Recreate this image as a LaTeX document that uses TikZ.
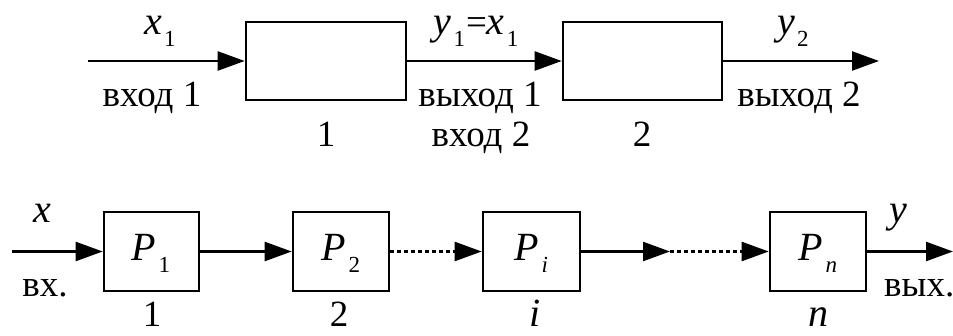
\documentclass[tikz,border=0pt]{standalone}
\usepackage{fontspec}
\setmainfont{Liberation Serif}
\usetikzlibrary{arrows.meta}
\newcommand{\lowsub}[1]{\kern0.06em\raisebox{-0.3em}{\fontsize{23}{23}\selectfont #1}}
\newcommand{\mathlbl}[2]{{\fontsize{40}{44}\selectfont\itshape #1}\lowsub{#2}}
\tikzset{
  blockbox/.style={draw, line width=2.6pt, inner sep=0pt},
  lbl/.style={inner sep=0pt, anchor=base, font=\fontsize{37}{42}\selectfont},
  mlbl/.style={inner sep=0pt, anchor=base, font=\fontsize{40}{44}\selectfont\itshape},
  conn/.style={line width=2.4pt, -{Triangle[length=27pt,width=19pt]}},
  dotconn/.style={line width=2.4pt, dash pattern=on 4pt off 3pt, -{Triangle[length=27pt,width=19pt]}},
}
\begin{document}
\begin{tikzpicture}[x=1pt,y=-1pt]
\useasboundingbox (0,0) rectangle (953,336);
% top row
\node[blockbox, minimum width=160pt, minimum height=78pt] (b1) at (326,61) {};
\node[blockbox, minimum width=159pt, minimum height=78pt] (b2) at (642.5,61) {};
\coordinate (in1) at (88,61);
\coordinate (out2) at (879,61);
\draw[conn] (in1) -- (b1.west);
\draw[conn] (b1.east) -- (b2.west);
\draw[conn] (b2.east) -- (out2);
\node[lbl] (lx1) at (160,35) {\mathlbl{x}{1}};
\node[lbl] (lin1) at (152,107) {вход 1};
\node[lbl] (n1) at (326,147) {1};
\node[lbl] (ly1) at (476,35) {\mathlbl{y}{1}\kern0.03em=\mathlbl{x}{1}};
\node[lbl] (lout1) at (480,107) {выход 1};
\node[lbl] (lin2) at (481,147) {вход 2};
\node[lbl] (n2) at (642,147) {2};
\node[lbl] (ly2) at (793,35) {\mathlbl{y}{2}};
\node[lbl] (lout2) at (799,107) {выход 2};
% bottom row
\node[blockbox, minimum width=95pt, minimum height=79pt] (p1) at (151.5,251.5) {};
\node[blockbox, minimum width=96pt, minimum height=79pt] (p2) at (341,251.5) {};
\node[blockbox, minimum width=97pt, minimum height=79pt] (pi) at (531.5,251.5) {};
\node[blockbox, minimum width=96pt, minimum height=79pt] (pn) at (818,251.5) {};
\node[lbl] (tp1) at (151,261) {\mathlbl{P}{1}};
\node[lbl] (tp2) at (341,261) {\mathlbl{P}{2}};
\node[lbl] (tpi) at (531.5,261) {\mathlbl{P}{\itshape i}};
\node[lbl] (tpn) at (818,261) {\mathlbl{P}{\itshape n}};
\coordinate (inB) at (12,251.5);
\coordinate (midB) at (670,251.5);
\coordinate (outB) at (953,251.5);
\draw[conn] (inB) -- (p1.west);
\draw[conn] (p1.east) -- (p2.west);
\draw[dotconn] (p2.east) -- (pi.west);
\draw[conn] (pi.east) -- (midB);
\draw[dotconn] (midB) -- (pn.west);
\draw[conn] (pn.east) -- (outB);
\node[mlbl] (lx) at (42,223) {x};
\node[lbl] (lvx) at (45,297) {вх.};
\node[lbl] (m1) at (152,327) {1};
\node[lbl] (m2) at (339,327) {2};
\node[mlbl] (mi) at (535,327) {i};
\node[mlbl] (mn) at (818,327) {n};
\node[mlbl] (ly) at (898,223) {y};
\node[lbl, anchor=base west] (lvyx) at (884,297) {вых.};
\end{tikzpicture}
\end{document}
